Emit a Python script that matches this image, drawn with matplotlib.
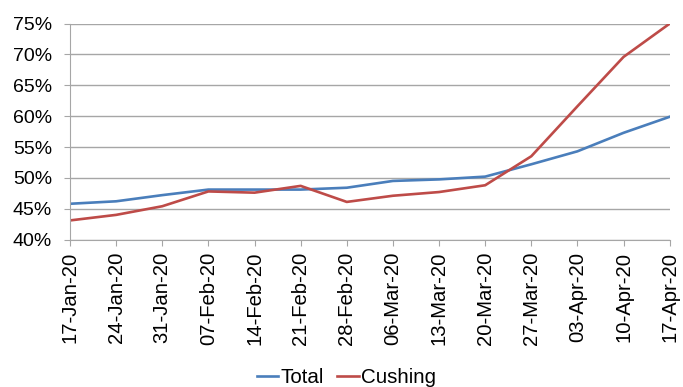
import matplotlib.pyplot as plt
import matplotlib.ticker as mtick

plt.rcParams['font.family'] = ['Liberation Sans', 'DejaVu Sans']

weeks = ['17-Jan-20', '24-Jan-20', '31-Jan-20', '07-Feb-20', '14-Feb-20',
         '21-Feb-20', '28-Feb-20', '06-Mar-20', '13-Mar-20', '20-Mar-20',
         '27-Mar-20', '03-Apr-20', '10-Apr-20', '17-Apr-20']
total = [45.8, 46.2, 47.2, 48.1, 48.1, 48.1, 48.4, 49.5, 49.75, 50.2,
         52.2, 54.3, 57.3, 59.9]
cushing = [43.1, 44.0, 45.4, 47.8, 47.6, 48.7, 46.1, 47.1, 47.7, 48.8,
           53.5, 61.6, 69.6, 75.0]

fig = plt.figure(figsize=(6.83, 3.87), dpi=100)
ax = fig.add_axes([0.1025, 0.381, 0.878, 0.558])

x = range(len(weeks))
ax.plot(x, total, color='#4A7EBB', lw=1.9, label='Total')
ax.plot(x, cushing, color='#BE4B48', lw=1.9, label='Cushing')

ax.set_xlim(0, len(weeks) - 1)
ax.set_ylim(40, 75)
ax.set_yticks(range(40, 76, 5))
ax.yaxis.set_major_formatter(mtick.FuncFormatter(lambda v, p: f'{v:.0f}%'))
ax.set_xticks(list(x))
ax.set_xticklabels(weeks, rotation=90)

ax.grid(axis='y', color='#A6A6A6', lw=1)
ax.set_axisbelow(True)
for side in ['top', 'right']:
    ax.spines[side].set_visible(False)
ax.spines['left'].set_color('#A6A6A6')
ax.spines['bottom'].set_color('#A6A6A6')
ax.tick_params(axis='y', length=4.5, color='#A6A6A6', labelsize=14, pad=8.5)
ax.tick_params(axis='x', length=4.5, color='#A6A6A6', labelsize=14.6, pad=4.5)

fig.legend(loc='lower center', bbox_to_anchor=(0.507, -0.048), ncol=2,
           frameon=False, fontsize=14.8, handlelength=1.03, handletextpad=0.1,
           columnspacing=0.68)

fig.savefig('out.png', dpi=100)
